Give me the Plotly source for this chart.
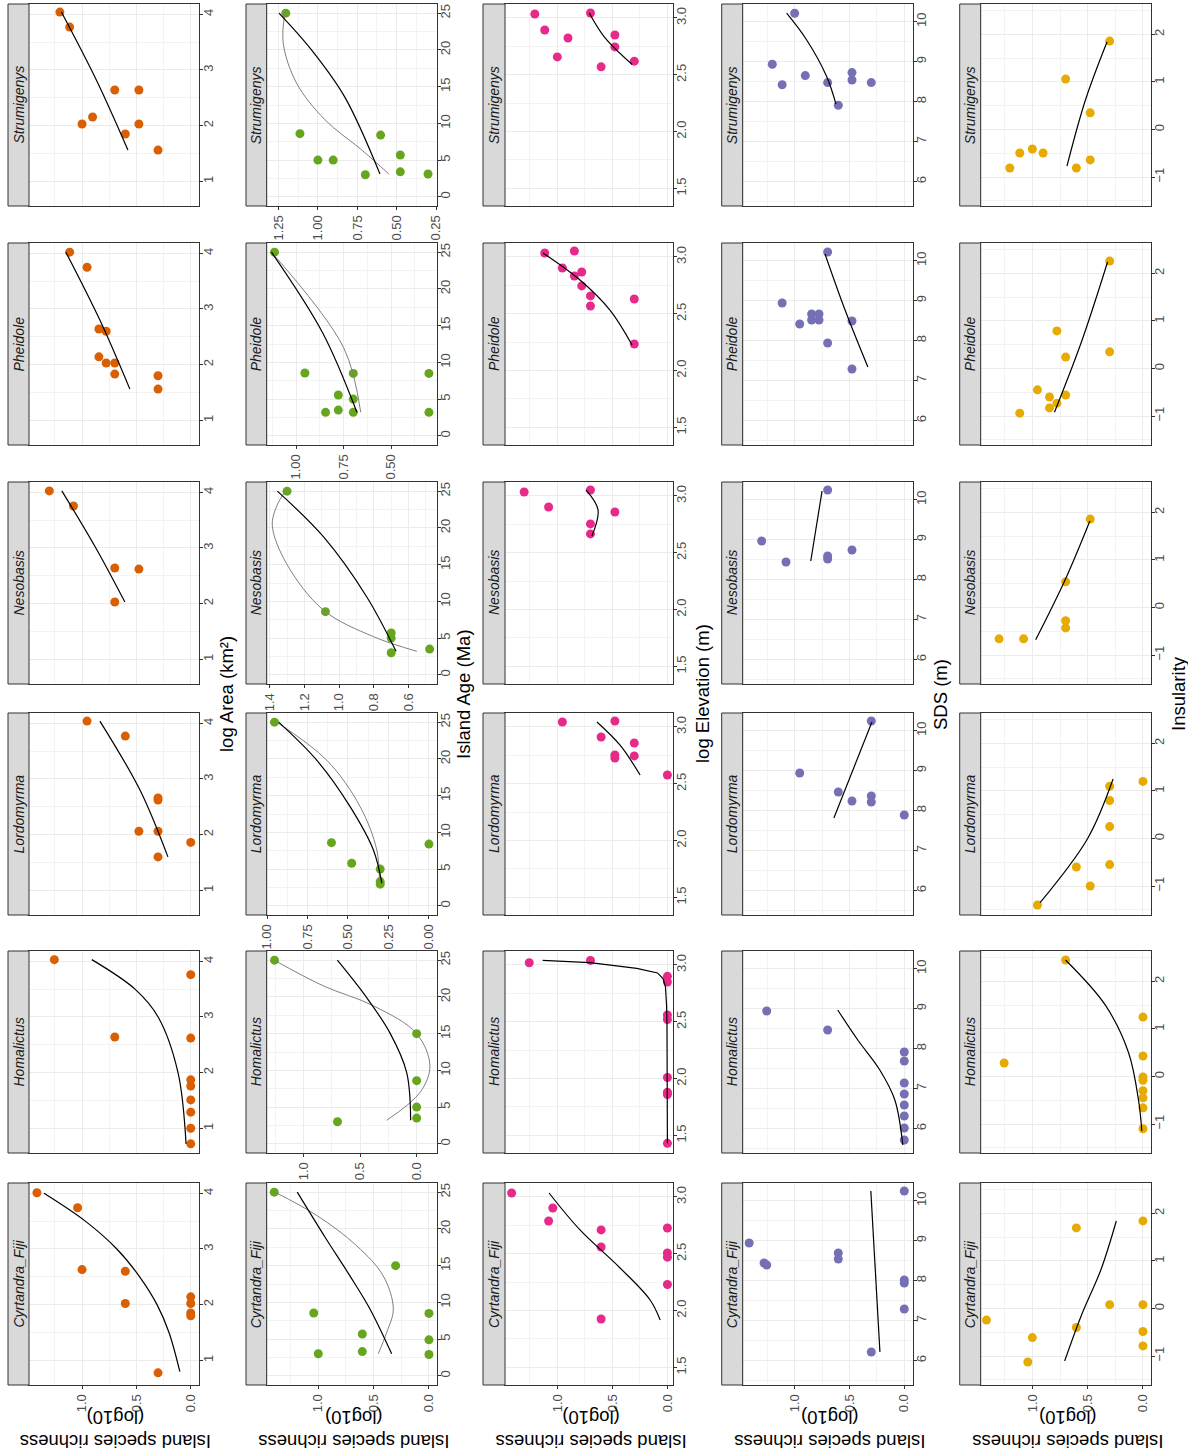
import plotly.graph_objects as go

W, H = 1188, 1455

# ---------------- data ----------------
taxa = ["Strumigenys", "Pheidole", "Nesobasis", "Lordomyrma", "Homalictus", "Cyrtandra_Fiji"]
predictor_titles = ["log Area (km²)", "Island Age (Ma)", "log Elevation (m)", "SDS (m)", "Insularity"]
point_colors = ["#D95F02", "#66A61E", "#E7298A", "#7570B3", "#E6AB02"]
richness_title = "Island species richness<br>(log10)"

# log Area
area_x = {
    "Strumigenys": [4.04, 3.77, 2.64, 2.64, 2.155, 2.03, 2.03, 1.85, 1.56],
    "Pheidole": [4.02, 3.75, 2.64, 2.60, 2.14, 2.03, 2.03, 1.83, 1.80, 1.56],
    "Nesobasis": [4.025, 3.754, 2.64, 2.62, 2.03],
    "Lordomyrma": [4.04, 3.77, 2.66, 2.62, 2.06, 2.06, 1.86, 1.60],
    "Homalictus": [4.03, 3.76, 2.64, 2.62, 1.87, 1.76, 1.51, 1.29, 1.0, 0.72],
    "Cyrtandra_Fiji": [4.01, 3.74, 2.63, 2.60, 2.02, 2.14, 2.02, 1.85, 1.80, 0.775],
}
area_rich = {
    "Strumigenys": [1.204, 1.114, 0.699, 0.477, 0.903, 1.0, 0.477, 0.602, 0.301],
    "Pheidole": [1.114, 0.954, 0.845, 0.778, 0.845, 0.778, 0.699, 0.699, 0.301, 0.301],
    "Nesobasis": [1.301, 1.079, 0.699, 0.477, 0.699],
    "Lordomyrma": [0.954, 0.602, 0.301, 0.301, 0.477, 0.301, 0.0, 0.301],
    "Homalictus": [1.255, 0.0, 0.699, 0.0, 0.0, 0.0, 0.0, 0.0, 0.0, 0.0],
    "Cyrtandra_Fiji": [1.415, 1.041, 1.0, 0.602, 0.602, 0.0, 0.0, 0.0, 0.0, 0.301],
}
area_fit_x = {
    "Strumigenys": [4.04, 2.8, 1.56],
    "Pheidole": [4.02, 2.8, 1.56],
    "Nesobasis": [4.025, 3.0, 2.03],
    "Lordomyrma": [4.04, 2.8, 1.60],
    "Homalictus": [4.03, 3.5, 3.0, 2.0, 0.72],
    "Cyrtandra_Fiji": [4.0, 3.5, 3.0, 2.5, 2.0, 1.5, 0.795],
}
area_fit_rich = {
    "Strumigenys": [1.19, 0.864, 0.578],
    "Pheidole": [1.149, 0.836, 0.56],
    "Nesobasis": [1.186, 0.873, 0.606],
    "Lordomyrma": [0.836, 0.467, 0.21],
    "Homalictus": [0.91, 0.513, 0.30, 0.117, 0.043],
    "Cyrtandra_Fiji": [1.35, 0.97, 0.68, 0.47, 0.31, 0.20, 0.10],
}

# Island Age
age_x = {
    "Strumigenys": [25, 8.6, 5.0, 5.0, 3.0, 8.4, 5.7, 3.4, 3.1],
    "Pheidole": [25, 8.55, 8.5, 5.55, 5.0, 3.5, 3.2, 3.2, 8.5, 3.2],
    "Nesobasis": [25, 8.6, 5.0, 5.7, 3.0, 3.5],
    "Lordomyrma": [25, 8.6, 5.8, 5.0, 3.3, 2.95, 8.4],
    "Homalictus": [25, 3.0, 15, 8.6, 5.0, 3.5],
    "Cyrtandra_Fiji": [25, 3.0, 8.55, 5.7, 3.3, 15, 8.5, 4.9, 2.9],
}
age_rich = {
    "Strumigenys": [1.204, 1.114, 1.0, 0.903, 0.699, 0.602, 0.477, 0.477, 0.301],
    "Pheidole": [1.114, 0.954, 0.699, 0.778, 0.699, 0.778, 0.845, 0.699, 0.301, 0.301],
    "Nesobasis": [1.301, 1.079, 0.699, 0.699, 0.699, 0.477],
    "Lordomyrma": [0.954, 0.602, 0.477, 0.301, 0.301, 0.301, 0.0],
    "Homalictus": [1.255, 0.699, 0.0, 0.0, 0.0, 0.0],
    "Cyrtandra_Fiji": [1.398, 1.0, 1.041, 0.602, 0.602, 0.301, 0.0, 0.0, 0.0],
}
age_fit_x = {
    "Strumigenys": [25, 20, 13.6, 3.1],
    "Pheidole": [25, 14, 3.2],
    "Nesobasis": [25, 18.8, 10.6, 3.2],
    "Lordomyrma": [25, 19.8, 13.5, 7.6, 3.1],
    "Homalictus": [25, 19.9, 15.1, 9.7, 3.2],
    "Cyrtandra_Fiji": [25, 18.9, 13.6, 9.1, 3.0],
}
age_fit_rich = {
    "Strumigenys": [1.247, 1.041, 0.83, 0.606],
    "Pheidole": [1.13, 0.86, 0.68],
    "Nesobasis": [1.357, 1.091, 0.84, 0.671],
    "Lordomyrma": [0.928, 0.692, 0.487, 0.343, 0.291],
    "Homalictus": [0.70, 0.441, 0.236, 0.088, 0.053],
    "Cyrtandra_Fiji": [1.19, 0.94, 0.714, 0.533, 0.337],
}
age_quad_x = {
    "Strumigenys": [25, 20.9, 15.5, 10.5, 6.4, 3.1],
    "Pheidole": [25, 12, 3.2],
    "Nesobasis": [25, 23, 20.3, 15.1, 8.8, 5.2, 3.2],
    "Lordomyrma": [25, 19.8, 13.5, 7.6, 3.1],
    "Homalictus": [25, 21.5, 18.8, 15, 10.6, 7.0, 3.2],
    "Cyrtandra_Fiji": [25, 21.8, 17.7, 13.6, 9.1, 5.9, 3.0],
}
age_quad_rich = {
    "Strumigenys": [1.21, 1.22, 1.136, 0.956, 0.723, 0.549],
    "Pheidole": [1.13, 0.75, 0.66],
    "Nesobasis": [1.31, 1.36, 1.386, 1.303, 1.09, 0.802, 0.551],
    "Lordomyrma": [0.94, 0.63, 0.425, 0.322, 0.306],
    "Homalictus": [1.257, 0.824, 0.383, 0.0, -0.117, -0.03, 0.265],
    "Cyrtandra_Fiji": [1.39, 1.01, 0.653, 0.413, 0.322, 0.382, 0.458],
}

# log Elevation
elev_x = {
    "Strumigenys": [3.035, 3.044, 2.894, 2.824, 2.85, 2.745, 2.657, 2.57, 2.62],
    "Pheidole": [3.035, 3.053, 2.903, 2.833, 2.868, 2.745, 2.657, 2.568, 2.63, 2.234],
    "Nesobasis": [3.035, 2.903, 3.053, 2.859, 2.754, 2.666],
    "Lordomyrma": [3.044, 3.053, 2.912, 2.859, 2.754, 2.727, 2.745, 2.577],
    "Homalictus": [3.02, 3.04, 2.90, 2.85, 2.56, 2.52, 2.01, 1.88, 1.86, 1.43],
    "Cyrtandra_Fiji": [3.035, 2.903, 2.789, 2.71, 2.56, 2.727, 2.507, 2.47, 2.23, 1.926],
}
elev_rich = {
    "Strumigenys": [1.204, 0.699, 1.114, 0.903, 0.477, 0.477, 1.0, 0.602, 0.301],
    "Pheidole": [1.114, 0.845, 0.954, 0.845, 0.778, 0.778, 0.699, 0.699, 0.301, 0.301],
    "Nesobasis": [1.301, 1.079, 0.699, 0.477, 0.699, 0.699],
    "Lordomyrma": [0.954, 0.477, 0.602, 0.301, 0.477, 0.477, 0.301, 0.0],
    "Homalictus": [1.255, 0.699, 0.0, 0.0, 0.0, 0.0, 0.0, 0.0, 0.0, 0.0],
    "Cyrtandra_Fiji": [1.415, 1.041, 1.079, 0.602, 0.602, 0.0, 0.0, 0.0, 0.0, 0.602],
}
elev_fit_x = {
    "Strumigenys": [3.044, 2.824, 2.59],
    "Pheidole": [3.035, 2.797, 2.53, 2.225],
    "Nesobasis": [3.053, 2.877, 2.648],
    "Lordomyrma": [3.044, 2.84, 2.577],
    "Homalictus": [3.04, 3.03, 3.02, 2.97, 2.93, 2.88, 2.81, 2.65, 2.49, 1.43],
    "Cyrtandra_Fiji": [3.035, 2.71, 2.375, 2.093, 1.917],
}
elev_fit_rich = {
    "Strumigenys": [0.71, 0.566, 0.32],
    "Pheidole": [1.13, 0.794, 0.52, 0.321],
    "Nesobasis": [0.74, 0.63, 0.686],
    "Lordomyrma": [0.64, 0.43, 0.248],
    "Homalictus": [1.133, 0.9, 0.703, 0.278, 0.09, 0.04, 0.018, 0.008, 0.004, 0.0],
    "Cyrtandra_Fiji": [1.075, 0.794, 0.43, 0.157, 0.066],
}

# SDS
sds_x = {
    "Strumigenys": [10.21, 8.935, 8.42, 8.65, 8.475, 7.91, 8.725, 8.54, 8.475],
    "Pheidole": [10.215, 8.94, 8.665, 8.665, 8.415, 8.515, 8.515, 7.94, 8.49, 7.29],
    "Nesobasis": [10.24, 8.965, 8.44, 8.59, 8.515, 8.74],
    "Lordomyrma": [10.24, 8.94, 8.465, 8.24, 8.365, 8.215, 7.89],
    "Homalictus": [8.94, 8.465, 7.915, 7.69, 7.14, 6.865, 6.59, 6.315, 6.015, 5.715],
    "Cyrtandra_Fiji": [10.24, 8.94, 8.44, 8.39, 8.69, 8.54, 8.015, 7.94, 7.29, 6.215],
}
sds_rich = {
    "Strumigenys": [1.0, 1.204, 1.114, 0.903, 0.699, 0.602, 0.477, 0.477, 0.301],
    "Pheidole": [0.699, 1.114, 0.845, 0.778, 0.954, 0.845, 0.778, 0.699, 0.477, 0.477],
    "Nesobasis": [0.699, 1.301, 1.079, 0.699, 0.699, 0.477],
    "Lordomyrma": [0.301, 0.954, 0.602, 0.477, 0.301, 0.301, 0.0],
    "Homalictus": [1.255, 0.699, 0.0, 0.0, 0.0, 0.0, 0.0, 0.0, 0.0, 0.0],
    "Cyrtandra_Fiji": [0.0, 1.415, 1.279, 1.255, 0.602, 0.602, 0.0, 0.0, 0.0, 0.301],
}
sds_fit_x = {
    "Strumigenys": [10.21, 9.54, 8.625, 7.935],
    "Pheidole": [10.165, 8.765, 7.34],
    "Nesobasis": [10.215, 8.465],
    "Lordomyrma": [10.215, 7.815],
    "Homalictus": [8.965, 8.215, 7.465, 6.715, 5.59],
    "Cyrtandra_Fiji": [10.24, 6.215],
}
sds_fit_rich = {
    "Strumigenys": [1.073, 0.89, 0.708, 0.623],
    "Pheidole": [0.723, 0.54, 0.332],
    "Nesobasis": [0.75, 0.853],
    "Lordomyrma": [0.295, 0.642],
    "Homalictus": [0.607, 0.424, 0.223, 0.086, 0.013],
    "Cyrtandra_Fiji": [0.305, 0.222],
}

# Insularity
ins_x = {
    "Strumigenys": [-0.81, -0.495, -0.41, -0.495, 1.06, 0.35, -0.64, -0.81, 1.86],
    "Pheidole": [-0.94, -0.45, -0.83, -0.73, -0.56, 0.79, 0.24, 0.35, 2.26, -0.6],
    "Nesobasis": [-0.66, -0.66, -0.43, -0.28, 0.54, 1.86],
    "Lordomyrma": [-1.4, -1.0, -0.6, -0.55, 0.25, 0.8, 1.1, 1.2],
    "Homalictus": [2.45, 0.284, 1.25, 0.43, -0.01, -0.08, -0.3, -0.45, -0.66, -1.1],
    "Cyrtandra_Fiji": [-0.244, -0.613, -1.127, 1.695, -0.40, 0.08, 1.843, 0.08, -0.485, -0.788],
}
ins_rich = {
    "Strumigenys": [1.204, 1.114, 1.0, 0.903, 0.699, 0.477, 0.477, 0.602, 0.301],
    "Pheidole": [1.114, 0.954, 0.845, 0.778, 0.699, 0.778, 0.699, 0.301, 0.301, 0.845],
    "Nesobasis": [1.301, 1.079, 0.699, 0.699, 0.699, 0.477],
    "Lordomyrma": [0.954, 0.477, 0.602, 0.301, 0.301, 0.301, 0.301, 0.0],
    "Homalictus": [0.699, 1.255, 0.0, 0.0, 0.0, 0.0, 0.0, 0.0, 0.0, 0.0],
    "Cyrtandra_Fiji": [1.415, 1.0, 1.041, 0.602, 0.602, 0.301, 0.0, 0.0, 0.0, 0.0],
}
ins_fit_x = {
    "Strumigenys": [-0.77, 0.62, 1.84],
    "Pheidole": [-0.92, 0.6, 2.24],
    "Nesobasis": [-0.68, 0.6, 1.82],
    "Lordomyrma": [-1.35, 0.0, 1.25],
    "Homalictus": [2.45, 1.5, 0.5, -0.5, -1.15],
    "Cyrtandra_Fiji": [1.84, 0.835, -0.153, -1.106],
}
ins_fit_rich = {
    "Strumigenys": [0.687, 0.52, 0.325],
    "Pheidole": [0.80, 0.55, 0.32],
    "Nesobasis": [0.97, 0.70, 0.48],
    "Lordomyrma": [0.93, 0.50, 0.27],
    "Homalictus": [0.70, 0.34, 0.13, 0.04, 0.01],
    "Cyrtandra_Fiji": [0.241, 0.377, 0.558, 0.708],
}

points_x = [area_x, age_x, elev_x, sds_x, ins_x]
points_rich = [area_rich, age_rich, elev_rich, sds_rich, ins_rich]
fits_x = [area_fit_x, age_fit_x, elev_fit_x, sds_fit_x, ins_fit_x]
fits_rich = [area_fit_rich, age_fit_rich, elev_fit_rich, sds_fit_rich, ins_fit_rich]

# ---------------- layout geometry (pixels) ----------------
strip_x0 = [8, 246, 483, 721.7, 959.7]
panel_x0 = [29, 266.7, 505, 742.7, 980.7]
panel_x1 = [199, 436.7, 672.7, 912.7, 1150.7]
row_top = [4, 243, 482, 713, 951, 1183]
panel_h = 202
title_x = [226, 463, 702, 940, 1178]

pred_range = [[0.556, 4.185], [-1.25, 26.25], [1.345, 3.123], [5.39, 10.44], [-1.61, 2.64]]
pred_dtick = [1, 5, 0.5, 1, 1]
pred_fmt = ["d", "d", ".1f", "d", "d"]

rich_range_fixed = [[1.488, -0.076], None, [1.475, -0.048], [1.474, -0.077], [1.467, -0.07]]
# free richness scales of the Island Age row
age_rich_range = {
    "Strumigenys": ([1.325, 0.246], 0.25, ".2f"),
    "Pheidole": ([1.155, 0.26], 0.25, ".2f"),
    "Nesobasis": ([1.4185, 0.436], 0.2, ".1f"),
    "Lordomyrma": ([1.002, -0.048], 0.25, ".2f"),
    "Homalictus": ([1.324, -0.177], 0.5, ".1f"),
    "Cyrtandra_Fiji": ([1.466, -0.07], 0.5, ".1f"),
}

GRID = "#EBEBEB"
MINOR = "#F3F3F3"
AXC = "#333333"
TICKC = "#4D4D4D"
FONT = "Liberation Sans, Arial, sans-serif"


def px_x(x):
    return x / W


def px_y(y):
    return 1 - y / H


fig = go.Figure()
layout = {}
shapes = []
annotations = []

for c in range(5):
    for r, taxon in enumerate(taxa):
        idx = c * 6 + r + 1
        xs = "" if idx == 1 else str(idx)
        top = row_top[r]
        bottom = top + panel_h

        if c == 1:
            rr, rdt, rfmt = age_rich_range[taxon]
            show_rich = True
        else:
            rr, rdt, rfmt = rich_range_fixed[c], 0.5, ".1f"
            show_rich = (r == len(taxa) - 1)

        layout["xaxis" + xs] = dict(
            domain=[px_x(panel_x0[c]), px_x(panel_x1[c])],
            anchor="y" + xs, automargin=False,
            range=rr, autorange=False,
            tick0=0, dtick=rdt, tickformat=rfmt,
            showgrid=True, gridcolor=GRID, gridwidth=1.1,
            minor=dict(dtick=rdt / 2, tick0=0, showgrid=True, gridcolor=MINOR, gridwidth=0.6),
            ticks="outside" if show_rich else "", ticklen=3, tickwidth=1, tickcolor=AXC,
            showticklabels=show_rich, tickangle=-90,
            tickfont=dict(family=FONT, size=13, color=TICKC),
            showline=True, linecolor=AXC, linewidth=1, mirror=True, zeroline=False,
        )
        layout["yaxis" + xs] = dict(
            domain=[px_y(bottom), px_y(top)],
            anchor="x" + xs, side="right", automargin=False,
            range=pred_range[c], autorange=False,
            tick0=0, dtick=pred_dtick[c], tickformat=pred_fmt[c],
            showgrid=True, gridcolor=GRID, gridwidth=1.1,
            minor=dict(dtick=pred_dtick[c] / 2, tick0=0, showgrid=True, gridcolor=MINOR, gridwidth=0.6),
            ticks="outside", ticklen=3, tickwidth=1, tickcolor=AXC,
            showticklabels=True, tickangle=-90, ticklabelstandoff=-6,
            tickfont=dict(family=FONT, size=13, color=TICKC),
            showline=True, linecolor=AXC, linewidth=1, mirror=True, zeroline=False,
        )

        # strip
        shapes.append(dict(type="rect", xref="paper", yref="paper",
                           x0=px_x(strip_x0[c]), x1=px_x(panel_x0[c]),
                           y0=px_y(bottom), y1=px_y(top),
                           fillcolor="#D9D9D9", line=dict(color=AXC, width=1), layer="above"))
        annotations.append(dict(xref="paper", yref="paper",
                                x=px_x((strip_x0[c] + panel_x0[c]) / 2), y=px_y(top + panel_h / 2),
                                text="<i>" + taxon + "</i>", textangle=-90, showarrow=False,
                                xanchor="center", yanchor="middle",
                                font=dict(family=FONT, size=14, color="#1A1A1A")))

        # points
        fig.add_trace(go.Scatter(
            x=points_rich[c][taxon], y=points_x[c][taxon], mode="markers",
            marker=dict(size=9, color=point_colors[c], line=dict(width=0)),
            xaxis="x" + xs, yaxis="y" + xs, showlegend=False, hoverinfo="skip"))

        # fitted curves
        if c == 1:
            fig.add_trace(go.Scatter(
                x=age_quad_rich[taxon], y=age_quad_x[taxon], mode="lines",
                line=dict(color="#7F7F7F", width=1, shape="spline", smoothing=1.0),
                xaxis="x" + xs, yaxis="y" + xs, showlegend=False, hoverinfo="skip"))
        shape_kind = "linear" if (c == 2 and taxon == "Homalictus") else "spline"
        fig.add_trace(go.Scatter(
            x=fits_rich[c][taxon], y=fits_x[c][taxon], mode="lines",
            line=dict(color="black", width=1.2, shape=shape_kind),
            xaxis="x" + xs, yaxis="y" + xs, showlegend=False, hoverinfo="skip"))

    # predictor title on the right of each column
    annotations.append(dict(xref="paper", yref="paper", x=px_x(title_x[c]), y=px_y(694),
                            text=predictor_titles[c], textangle=-90, showarrow=False,
                            xanchor="center", yanchor="middle",
                            font=dict(family=FONT, size=18.5, color="black")))
    # richness title below each column
    annotations.append(dict(xref="paper", yref="paper",
                            x=px_x((panel_x0[c] + panel_x1[c]) / 2 + 2), y=px_y(1430),
                            text=richness_title, textangle=180, showarrow=False,
                            xanchor="center", yanchor="middle",
                            font=dict(family=FONT, size=18.5, color="black")))

fig.update_layout(
    width=W, height=H,
    margin=dict(l=0, r=0, t=0, b=0, autoexpand=False),
    paper_bgcolor="white", plot_bgcolor="white",
    showlegend=False,
    shapes=shapes, annotations=annotations,
    **layout,
)

fig.write_html("out.html")
